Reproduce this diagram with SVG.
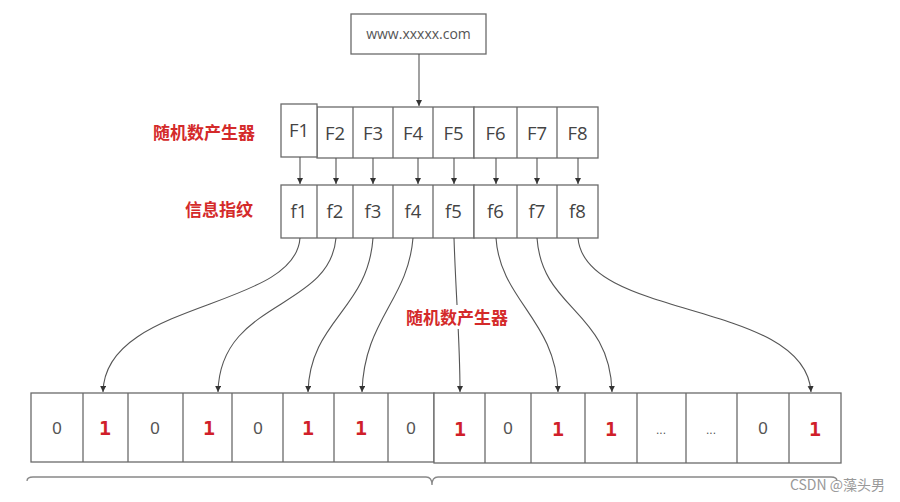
<svg xmlns="http://www.w3.org/2000/svg" width="900" height="502" viewBox="0 0 900 502">
<style>
.box{fill:#fff;stroke:#6a6a6a;stroke-width:1.3}
.t{font-family:"Open Sans","Liberation Sans",sans-serif;fill:#444;text-anchor:middle}
.F{font-size:18.5px}
.url{font-size:14px;fill:#555}
.lbl{font-family:"Noto Sans CJK SC",sans-serif;font-weight:bold;font-size:17px;fill:#d42a2a}
.z{font-family:"Liberation Sans",sans-serif;font-size:17px;fill:#555;text-anchor:middle}
.o{font-family:"DejaVu Sans Mono",monospace;font-weight:bold;font-size:20px;fill:#d01f2a;text-anchor:middle}
.conn path,.conn line{fill:none;stroke:#555;stroke-width:1.1;marker-end:url(#ah)}
</style>
<defs>
<marker id="ah" markerWidth="8" markerHeight="8" refX="6" refY="3" orient="auto" markerUnits="userSpaceOnUse">
<path d="M0,0 L6,3 L0,6 Z" fill="#333"/>
</marker>
</defs>
<rect width="900" height="502" fill="#fff"/>

<g id="url">
<rect class="box" x="351" y="14" width="135" height="40"/>
<text class="t url" x="418.5" y="39">www.xxxxx.com</text>
</g>

<g id="label-rng-top"><text class="lbl" x="255" y="139" text-anchor="end">随机数产生器</text></g>
<g id="label-fp"><text class="lbl" x="253" y="216" text-anchor="end">信息指纹</text></g>

<g id="F-row">
<rect class="box" x="317" y="107" width="157" height="51"/>
<rect class="box" x="474" y="107" width="124" height="51"/>
<line x1="353" y1="107" x2="353" y2="158" stroke="#6a6a6a" stroke-width="1.3"/>
<line x1="393" y1="107" x2="393" y2="158" stroke="#6a6a6a" stroke-width="1.3"/>
<line x1="433" y1="107" x2="433" y2="158" stroke="#6a6a6a" stroke-width="1.3"/>
<line x1="517" y1="107" x2="517" y2="158" stroke="#6a6a6a" stroke-width="1.3"/>
<line x1="557" y1="107" x2="557" y2="158" stroke="#6a6a6a" stroke-width="1.3"/>
<rect class="box" x="281" y="104" width="36" height="53"/>
<text class="t F" x="299" y="137">F1</text>
<text class="t F" x="335" y="140">F2</text>
<text class="t F" x="373" y="140">F3</text>
<text class="t F" x="413" y="140">F4</text>
<text class="t F" x="453.5" y="140">F5</text>
<text class="t F" x="495.5" y="140">F6</text>
<text class="t F" x="537" y="140">F7</text>
<text class="t F" x="577.5" y="140">F8</text>
</g>

<g id="f-row">
<rect class="box" x="281" y="185" width="193" height="53"/>
<rect class="box" x="474" y="185" width="124" height="53"/>
<line x1="317" y1="185" x2="317" y2="238" stroke="#6a6a6a" stroke-width="1.3"/>
<line x1="353" y1="185" x2="353" y2="238" stroke="#6a6a6a" stroke-width="1.3"/>
<line x1="393" y1="185" x2="393" y2="238" stroke="#6a6a6a" stroke-width="1.3"/>
<line x1="433" y1="185" x2="433" y2="238" stroke="#6a6a6a" stroke-width="1.3"/>
<line x1="517" y1="185" x2="517" y2="238" stroke="#6a6a6a" stroke-width="1.3"/>
<line x1="557" y1="185" x2="557" y2="238" stroke="#6a6a6a" stroke-width="1.3"/>
<text class="t F" x="299" y="218">f1</text>
<text class="t F" x="335" y="218">f2</text>
<text class="t F" x="373" y="218">f3</text>
<text class="t F" x="413" y="218">f4</text>
<text class="t F" x="453.5" y="218">f5</text>
<text class="t F" x="495.5" y="218">f6</text>
<text class="t F" x="537" y="218">f7</text>
<text class="t F" x="577.5" y="218">f8</text>
</g>

<g id="bits">
<rect class="box" x="31" y="393" width="403" height="69"/>
<rect class="box" x="434" y="393" width="407" height="70"/>
<g stroke="#6a6a6a" stroke-width="1.3">
<line x1="83" y1="393" x2="83" y2="462"/><line x1="128" y1="393" x2="128" y2="462"/>
<line x1="183" y1="393" x2="183" y2="462"/><line x1="232" y1="393" x2="232" y2="462"/>
<line x1="283" y1="393" x2="283" y2="462"/><line x1="334" y1="393" x2="334" y2="462"/>
<line x1="388" y1="393" x2="388" y2="462"/>
<line x1="485" y1="393" x2="485" y2="463"/><line x1="531" y1="393" x2="531" y2="463"/>
<line x1="585" y1="393" x2="585" y2="463"/><line x1="637" y1="393" x2="637" y2="463"/>
<line x1="686" y1="393" x2="686" y2="463"/><line x1="737" y1="393" x2="737" y2="463"/>
<line x1="789" y1="393" x2="789" y2="463"/>
</g>
<text class="z" x="57" y="434">0</text>
<text class="o" x="105" y="435">1</text>
<text class="z" x="155" y="434">0</text>
<text class="o" x="209" y="435">1</text>
<text class="z" x="258" y="434">0</text>
<text class="o" x="308" y="435">1</text>
<text class="o" x="361" y="435">1</text>
<text class="z" x="411" y="434">0</text>
<text class="o" x="460" y="436">1</text>
<text class="z" x="508" y="434">0</text>
<text class="o" x="558" y="436">1</text>
<text class="o" x="611" y="436">1</text>
<text class="z" x="661" y="434" style="font-size:12px">...</text>
<text class="z" x="711" y="434" style="font-size:12px">...</text>
<text class="z" x="763" y="434">0</text>
<text class="o" x="815" y="436">1</text>
</g>

<g id="brace">
<path d="M27,481 Q27,477 33,477 L426,477 Q432,477 432,485 Q432,477 438,477 L831,477 Q837,477 837,481" fill="none" stroke="#888" stroke-width="1.3"/>
</g>

<g class="conn" id="connectors">
<line x1="419" y1="54" x2="419" y2="106"/>
<line x1="300" y1="157" x2="300" y2="184"/>
<line x1="336" y1="158" x2="336" y2="184"/>
<line x1="373" y1="158" x2="373" y2="184"/>
<line x1="418" y1="158" x2="418" y2="184"/>
<line x1="454" y1="158" x2="454" y2="184"/>
<line x1="496" y1="158" x2="496" y2="184"/>
<line x1="537" y1="158" x2="537" y2="184"/>
<line x1="578" y1="158" x2="578" y2="184"/>
<path d="M300,238 C295,310 105,300 103,392"/>
<path d="M336,238 C330,310 220,300 218,392"/>
<path d="M373,238 C368,310 310,320 308,392"/>
<path d="M413,238 C408,300 364,320 362,392"/>
<path d="M454,238 C456,300 460,340 460,392"/>
<path d="M496,238 C500,300 556,320 558,392"/>
<path d="M537,238 C542,310 610,310 612,392"/>
<path d="M578,238 C585,320 805,300 811,392"/>
</g>

<g id="label-rng-mid">
<rect x="403" y="305" width="108" height="24" fill="#fff"/>
<text class="lbl" x="457" y="324" text-anchor="middle">随机数产生器</text>
</g>

<g id="watermark"><text x="885" y="490" text-anchor="end" font-family="Noto Sans CJK SC,sans-serif" font-size="14" fill="#999">CSDN @藻头男</text></g>
</svg>
